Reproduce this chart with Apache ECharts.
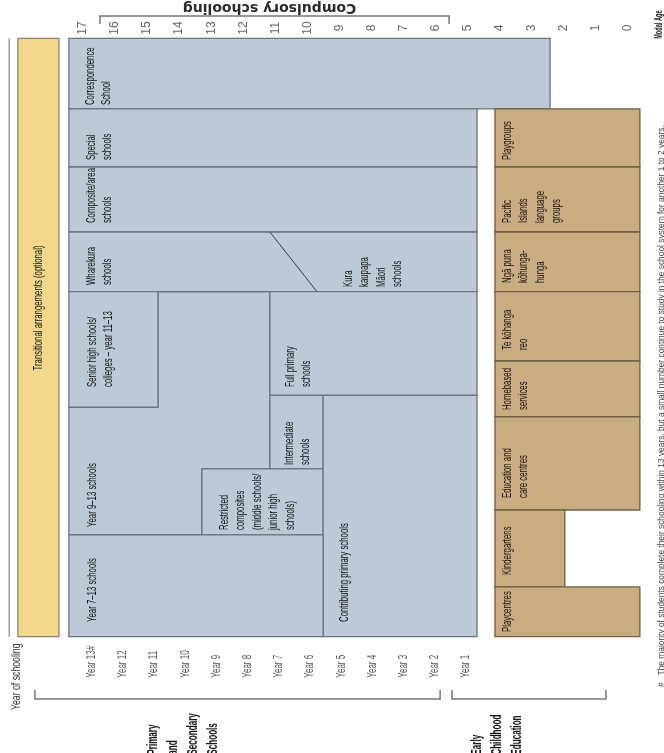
<!DOCTYPE html>
<html>
<head>
<meta charset="utf-8">
<script src="https://cdn.jsdelivr.net/npm/echarts@6/dist/echarts.min.js"></script>
<style>html,body{margin:0;padding:0;background:#fff}#c{width:664px;height:753px}</style>
</head>
<body>
<div id="c"></div>
<script>
// ================= DATA =================
const modalAges = [17,16,15,14,13,12,11,10,9,8,7,6,5,4,3,2,1,0];
const schoolYears = [13,12,11,10,9,8,7,6,5,4,3,2,1];
const schoolYearLabels = ['Year 13#','Year 12','Year 11','Year 10','Year 9','Year 8','Year 7','Year 6','Year 5','Year 4','Year 3','Year 2','Year 1'];
const compulsoryAges = [6, 16];

// school sector blocks: [modal age from, modal age to, lane from, lane to] (lanes: schematic 0-100 across the diagram)
const schoolBlocks = [
  [17.44, 2.43, 0, 11.81],      // Correspondence School
  [17.44, 4.71, 11.81, 21.51],  // Special schools
  [17.44, 4.71, 21.51, 32.37],  // Composite/area schools
  [17.44, 4.71, 32.37, 42.35],  // Wharekura / Kura kaupapa Maori schools
  [17.44, 14.66, 42.35, 61.66], // Senior high schools / colleges
  [11.17, 4.71, 42.35, 59.66],  // Full primary schools
  [11.17, 9.51, 59.66, 71.97],  // Intermediate schools
  [13.29, 9.51, 71.97, 83.0],   // Restricted composites
  [9.51, 4.71, 59.66, 100],     // Contributing primary schools
  [17.44, 9.51, 83.0, 100]      // Year 7-13 schools
];
// Year 9-13 schools (L-shaped block)
const year9to13Outline = [[17.44,61.66],[14.66,61.66],[14.66,42.35],[11.17,42.35],[11.17,71.97],[13.29,71.97],[13.29,83.0],[17.44,83.0]];
// Wharekura / Kura kaupapa divider
const kuraDivider = [[11.17, 32.37], [9.70, 42.35]];

// early childhood blocks: [age from, age to, lane from, lane to]
const eceBlocks = [
  [4.15, -0.37, 11.81, 21.51],  // Playgroups
  [4.15, -0.37, 21.51, 32.37],  // Pacific Islands language groups
  [4.15, -0.37, 32.37, 42.35],  // Nga puna kohungahunga
  [4.15, -0.37, 42.35, 53.93],  // Te kohanga reo
  [4.15, -0.37, 53.93, 63.24],  // Homebased services
  [4.15, -0.37, 63.24, 78.83],  // Education and care centres
  [4.15, 1.97, 78.83, 91.69],   // Kindergartens
  [4.15, -0.37, 91.69, 100]     // Playcentres
];
const transitionBlock = [19.03, 17.75, 0, 100];
const sectorSpans = [[18.5, 5.86], [5.49, 0.69]];
const sectorNames = ['Primary\nand\nSecondary\nSchools', 'Early\nChildhood\nEducation'];

const blockNames = [
  'Correspondence\nSchool', 'Special\nschools', 'Composite/area\nschools', 'Wharekura\nschools',
  'Kura\nkaupapa\nMāori\nschools', 'Senior high schools/\ncolleges – year 11–13', 'Full primary\nschools',
  'Intermediate\nschools', 'Year 9–13 schools', 'Restricted\ncomposites\n(middle schools/\njunior high\nschools)',
  'Year 7–13 schools', 'Contributing primary schools',
  'Playgroups', 'Pacific\nIslands\nlanguage\ngroups', 'Ngā puna\nkōhunga-\nhunga', 'Te kōhanga\nreo',
  'Homebased\nservices', 'Education and\ncare centres', 'Kindergartens', 'Playcentres'
];
const transitionName = 'Transitional arrangements (optional)';
const footnote = '#   The majority of students complete their schooling within 13 years, but a small number continue to study in the school system for another 1 to 2 years.';

// ================= LAYOUT (label anchors: first-line centre age, start lane) =================
const labelAnchors = [
  [16.78, 11.15], [16.75, 20.34], [16.75, 30.87], [16.75, 41.23],
  [8.73, 41.56], [16.72, 58.27], [10.54, 58.27],
  [10.57, 71.31], [16.72, 81.67], [12.60, 82.17],
  [16.72, 97.54], [8.83, 97.54],
  [3.77, 20.34], [3.77, 30.87], [3.77, 40.89], [3.77, 52.09],
  [3.77, 62.12], [3.77, 76.82], [3.77, 89.69], [3.77, 99.21]
];

const FONT = "'Liberation Sans', Arial, sans-serif";
const BLUE = '#bdc9d7', BLUE_EDGE = '#6e747b';
const TAN = '#c9ad81', TAN_EDGE = '#6f5d44';
const YELLOW = '#f3d88b', YELLOW_EDGE = '#8b8374';
const R90 = Math.PI / 2;

function txt(x, y, text, o) {
  o = o || {};
  const align = o.align || 'left', va = o.va || 'top';
  return {
    type: 'text', x: x, y: y, rotation: o.rotation == null ? R90 : o.rotation,
    scaleX: o.scaleX || 1, silent: true,
    style: {
      text: text, fill: o.color || '#141414', fontSize: o.size || 13, fontFamily: o.family || FONT,
      fontWeight: o.weight || 'normal', lineHeight: o.lh || 16,
      align: align, verticalAlign: va, textAlign: align, textVerticalAlign: va
    }
  };
}

function boxRender(fill, stroke) {
  return function (params, api) {
    const p0 = api.coord([api.value(0), api.value(2)]);
    const p1 = api.coord([api.value(1), api.value(3)]);
    return {
      type: 'rect',
      shape: { x: Math.min(p0[0], p1[0]), y: Math.min(p0[1], p1[1]), width: Math.abs(p1[0] - p0[0]), height: Math.abs(p1[1] - p0[1]) },
      style: { fill: fill, stroke: stroke, lineWidth: 1.3 }
    };
  };
}

const chart = echarts.init(document.getElementById('c'));
const LH = 16.5;

chart.setOption({
  animation: false,
  backgroundColor: '#ffffff',
  grid: { left: 18.86, right: 3.94, top: 38.3, bottom: 116.3, containLabel: false, outerBoundsMode: 'none' },
  xAxis: [
    {
      type: 'value', position: 'top', inverse: true, min: -1, max: 19, interval: 1,
      axisLine: { show: false }, axisTick: { show: false }, splitLine: { show: false },
      axisLabel: {
        rotate: 90, align: 'center', verticalAlign: 'middle', margin: 10.3,
        color: '#666', fontSize: 12, fontFamily: FONT,
        formatter: function (v) { return modalAges.indexOf(v) >= 0 ? String(v) : ''; }
      }
    },
    {
      type: 'value', position: 'bottom', inverse: true, min: -5.2199, max: 15.3314, show: false
    }
  ],
  yAxis: { type: 'value', min: 0, max: 100, inverse: true, show: false },
  series: [
    { type: 'custom', name: 'Transitional arrangements', xAxisIndex: 0, silent: true,
      data: [transitionBlock], renderItem: boxRender(YELLOW, YELLOW_EDGE) },
    { type: 'custom', name: 'Year 9–13 schools', xAxisIndex: 0, silent: true, data: [0],
      renderItem: function (params, api) {
        return { type: 'polygon', shape: { points: year9to13Outline.map(function (p) { return api.coord(p); }) },
          style: { fill: BLUE, stroke: BLUE_EDGE, lineWidth: 1.3 } };
      } },
    { type: 'custom', name: 'Schools', xAxisIndex: 0, silent: true,
      data: schoolBlocks, renderItem: boxRender(BLUE, BLUE_EDGE) },
    { type: 'custom', name: 'Kura divider', xAxisIndex: 0, silent: true, data: [0],
      renderItem: function (params, api) {
        const a = api.coord(kuraDivider[0]), b = api.coord(kuraDivider[1]);
        return { type: 'line', shape: { x1: a[0], y1: a[1], x2: b[0], y2: b[1] }, style: { stroke: '#3c3f44', lineWidth: 1 } };
      } },
    { type: 'custom', name: 'Early Childhood Education', xAxisIndex: 0, silent: true,
      data: eceBlocks, renderItem: boxRender(TAN, TAN_EDGE) },
    { type: 'custom', name: 'Labels', xAxisIndex: 0, silent: true,
      data: labelAnchors, renderItem: function (params, api) {
        const p = api.coord([api.value(0), api.value(1)]);
        return txt(p[0] - LH / 2, p[1], blockNames[params.dataIndex], { scaleX: 0.6, lh: LH, size: 13 });
      } },
    { type: 'custom', name: 'Year of schooling', xAxisIndex: 1, silent: true,
      data: schoolYears.map(function (k) { return [k, 100]; }),
      renderItem: function (params, api) {
        const p = api.coord([api.value(0), api.value(1)]);
        return txt(p[0], p[1] + 41, schoolYearLabels[params.dataIndex], { va: 'middle', size: 12, scaleX: 0.67, color: '#555' });
      } },
    { type: 'custom', name: 'Annotations', xAxisIndex: 0, silent: true, data: [0],
      renderItem: function (params, api) {
        const kids = [];
        const top = api.coord([0, 0])[1], bot = api.coord([0, 100])[1];
        // transitional label
        const t0 = api.coord([(transitionBlock[0] + transitionBlock[1]) / 2, 45.07]);
        kids.push(txt(t0[0], t0[1], transitionName, { align: 'center', va: 'middle', scaleX: 0.6, size: 13 }));
        // outer rule
        const o0 = api.coord([19.30, 0]), o1 = api.coord([19.30, 100]);
        kids.push({ type: 'line', shape: { x1: o0[0], y1: o0[1], x2: o1[0], y2: o1[1] }, style: { stroke: '#a0a0a0', lineWidth: 1.5 } });
        // compulsory schooling bracket
        const c0 = api.coord([compulsoryAges[1] + 0.47, 0])[0], c1 = api.coord([compulsoryAges[0] - 0.42, 0])[0];
        kids.push({ type: 'polyline', shape: { points: [[c0, top - 14.3], [c0, top - 22.3], [c1, top - 22.3], [c1, top - 14.3]] },
          style: { stroke: '#777', lineWidth: 1.5, fill: null } });
        kids.push(txt((c0 + c1) / 2 - 5, top - 31, 'Compulsory schooling',
          { rotation: Math.PI, align: 'center', va: 'middle', family: "'DejaVu Sans', sans-serif", size: 14, weight: 'bold', color: '#2a2a2a' }));
        // sector brackets and names
        const nameAt = [14.80, 4.69];
        sectorSpans.forEach(function (s, i) {
          const x0 = api.coord([s[0], 0])[0], x1 = api.coord([s[1], 0])[0];
          kids.push({ type: 'polyline', shape: { points: [[x0, bot + 53.3], [x0, bot + 62.3], [x1, bot + 62.3], [x1, bot + 53.3]] },
            style: { stroke: '#777', lineWidth: 1.5, fill: null } });
          const nx = api.coord([nameAt[i], 0])[0];
          kids.push(txt(nx - 10, bot + 118, sectorNames[i], { size: 14, weight: 'bold', scaleX: 0.58, lh: 20, color: '#141414' }));
        });
        // axis titles and footnote
        const ys = api.coord([19.09, 0])[0];
        kids.push(txt(ys, bot + 73.3, 'Year of schooling', { va: 'middle', size: 13, scaleX: 0.67, color: '#333' }));
        const ma = api.coord([-0.967, 0])[0];
        kids.push(txt(ma, top + 0.5, 'Modal Age', { va: 'middle', size: 10, weight: 'bold', scaleX: 0.56, color: '#222' }));
        const fn = api.coord([-1.03, 0])[0];
        kids.push(txt(fn, bot + 50.3, footnote, { va: 'middle', size: 9.5, scaleX: 0.88, color: '#444' }));
        return { type: 'group', children: kids };
      } }
  ]
});
</script>
</body>
</html>
